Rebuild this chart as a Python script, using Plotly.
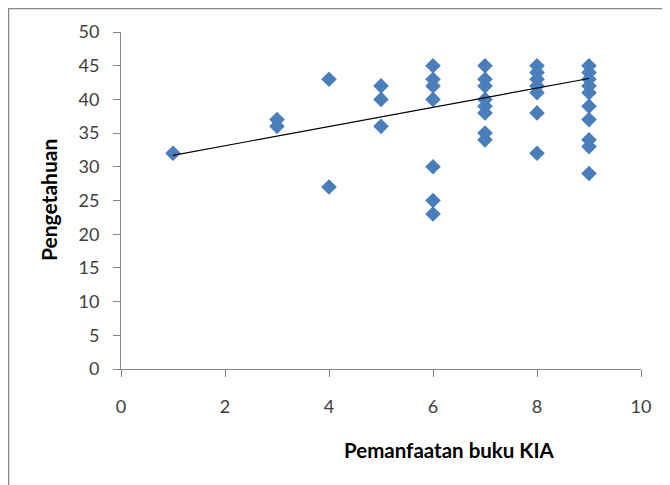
import plotly.graph_objects as go

x_vals = [1,
          3, 3,
          4, 4,
          5, 5, 5,
          6, 6, 6, 6, 6, 6, 6,
          7, 7, 7, 7, 7, 7, 7, 7,
          8, 8, 8, 8, 8, 8, 8,
          9, 9, 9, 9, 9, 9, 9, 9, 9, 9]
y_vals = [32,
          37, 36,
          43, 27,
          42, 40, 36,
          45, 43, 42, 40, 30, 25, 23,
          45, 43, 42, 40, 39, 38, 35, 34,
          45, 44, 43, 42, 41, 38, 32,
          45, 44, 43, 42, 41, 39, 37, 34, 33, 29]

# linear trend line as drawn in the reference
trend_x = [1, 9]
trend_y = [31.7, 43.1]

x_ticks = [0, 2, 4, 6, 8, 10]
y_ticks = [0, 5, 10, 15, 20, 25, 30, 35, 40, 45, 50]

FONT = "Lato, Open Sans, sans-serif"

fig = go.Figure()
fig.add_trace(go.Scatter(x=x_vals, y=y_vals, mode="markers",
                         marker=dict(symbol="diamond", size=12, color="#4a7ebb",
                                     line=dict(width=0)),
                         showlegend=False))
fig.add_trace(go.Scatter(x=trend_x, y=trend_y, mode="lines",
                         line=dict(color="black", width=1.2), showlegend=False))

axis_common = dict(showgrid=False, zeroline=False, showline=True, linecolor="#868686",
                   linewidth=1, ticks="outside", ticklen=7, tickcolor="#868686",
                   tickfont=dict(family=FONT, size=18, color="#404040"))

# page body has an 8px margin, so the figure is placed at (8, 8) in the window
W, H = 662, 477
L, R, T, B = 113, 29, 24, 116
pw, ph = W - L - R, H - T - B

fig.update_layout(
    width=W, height=H,
    margin=dict(l=L, r=R, t=T, b=B),
    paper_bgcolor="white", plot_bgcolor="white",
    xaxis=dict(range=[0, 10], tickvals=x_ticks, ticklabelstandoff=14, **axis_common),
    yaxis=dict(range=[0, 50], tickvals=y_ticks, ticklabelstandoff=10, **axis_common),
    annotations=[
        dict(text="<b>Pemanfaatan buku KIA</b>", xref="paper", yref="paper",
             x=(441 - L) / pw, y=(T + ph - 442) / ph, showarrow=False,
             xanchor="center", yanchor="middle",
             font=dict(family=FONT, size=20.5, color="black")),
        dict(text="<b>Pengetahuan</b>", xref="paper", yref="paper",
             x=(40 - L) / pw, y=(T + ph - 192) / ph, showarrow=False, textangle=-90,
             xanchor="center", yanchor="middle",
             font=dict(family=FONT, size=21, color="black")),
    ],
    shapes=[
        dict(type="rect", xref="paper", yref="paper",
             x0=(0.5 - L) / pw, x1=(W + 5 - L) / pw,
             y0=(T + ph - H - 5) / ph, y1=(T + ph - 0.5) / ph,
             line=dict(color="#888888", width=1.5), layer="below"),
    ],
)

fig.write_html("out.html")
